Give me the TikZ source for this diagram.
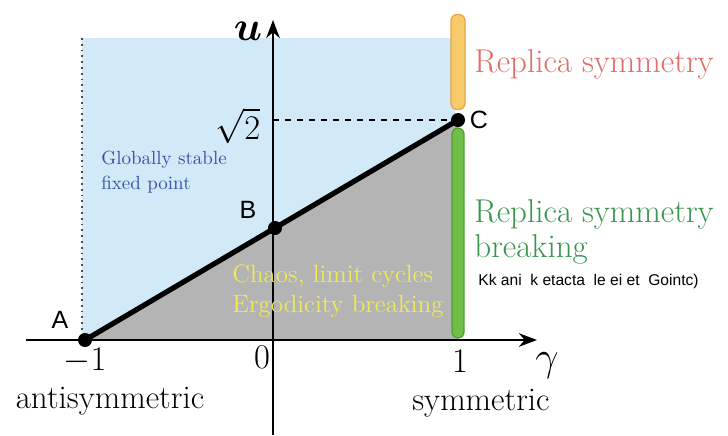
\documentclass[tikz,border=0pt]{standalone}
\usepackage{fontspec}
\usepackage{amsmath,bm}
\newfontfamily\labsf{Liberation Sans}
\usetikzlibrary{arrows.meta,positioning}
\definecolor{skyc}{RGB}{210,233,248}
\definecolor{grc}{RGB}{180,180,180}
\definecolor{orc}{RGB}{246,202,105}
\definecolor{ordc}{RGB}{232,165,70}
\definecolor{gnc}{RGB}{112,190,72}
\definecolor{gndc}{RGB}{80,160,50}
\definecolor{rtc}{RGB}{226,108,102}
\definecolor{gtc}{RGB}{58,150,78}
\definecolor{btc}{RGB}{52,82,168}
\definecolor{ytc}{RGB}{242,236,82}
\tikzset{axis/.style={line width=.9pt,-{Stealth[length=3.2mm,width=2.4mm]}},
 dot/.style={circle,fill=black,inner sep=0pt,minimum size=7pt},
 pill/.style={draw,rounded corners=3pt,inner sep=0pt,line width=.6pt},
 ptlab/.style={font=\labsf\fontsize{12.5}{14}\selectfont},
 tick/.style={font=\fontsize{18}{20}\selectfont},
 big/.style={font=\fontsize{16.5}{17.5}\selectfont,align=left},
 every node/.style={inner sep=1pt}}
\begin{document}
\begin{tikzpicture}[x=0.5pt,y=-0.5pt]
\useasboundingbox (0,0) rectangle (728,435);
% regions
\fill[skyc] (82,38) rectangle (455,340);
\coordinate (A) at (85,340);
\coordinate (B) at (275,228);
\coordinate (C) at (458,120);
\coordinate (D) at (458,340);
\fill[grc] (A) -- (C) -- (D) -- cycle;
\coordinate (lt) at (82,38);
\coordinate (lb) at (82,340);
\draw[dotted,line width=.9pt,black!70] (lt) -- (lb);
% axes
\coordinate (xs) at (26,340);
\coordinate (xe) at (537,340);
\coordinate (ys) at (273,435);
\coordinate (ye) at (273,20);
\draw[axis] (xs) -- (xe);
\draw[axis] (ys) -- (ye);
\coordinate (s2) at (273,120);
\draw[dashed,line width=.7pt] (s2) -- (C);
% pills
\node[pill,draw=ordc,fill=orc,minimum width=7pt,minimum height=47.5pt] (rs) at (458,62) {};
\node[pill,draw=gndc,fill=gnc,minimum width=6pt,minimum height=105pt] (rsb) at (458,233) {};
% boundary
\draw[line width=2.6pt,line cap=round] (A) -- (C);
\node[dot] (dA) at (A) {};
\node[dot] (dB) at (B) {};
\node[dot] (dC) at (C) {};
\node[ptlab] (lA) at (60,320) {A};
\node[ptlab] (lB) at (248,210) {B};
\node[ptlab] (lC) at (479,120) {C};
% ticks
\node[tick] (m1) at (85,361) {$-1$};
\node[tick] (z0) at (262,357) {$0$};
\node[tick] (p1) at (460,361) {$1$};
\node[font=\fontsize{22}{24}\selectfont] (ga) at (547,366) {$\gamma$};
\node[font=\fontsize{22}{24}\selectfont] (uu) at (248,31) {$\bm{u}$};
\node[tick] (sq) at (238,126) {$\sqrt{2}$};
\node[big] (anti) at (110,401) {antisymmetric};
\node[big] (sym) at (481,403) {symmetric};
% region texts
\node[big,text=rtc,anchor=west] (trs) at (472,64) {Replica symmetry};
\node[big,text=gtc,anchor=west] (trsb) at (472,232) {Replica symmetry\\breaking};
\node[anchor=west,font=\labsf\fontsize{7.8}{9}\selectfont] (gar) at (476,281) {Kk ani\ \ k etacta\ \ le ei et\ \ Gointc)};
\node[text=btc,align=left,anchor=west,font=\fontsize{9.5}{12.5}\selectfont] (gsf) at (99,172) {Globally stable\\fixed point};
\node[text=ytc,align=left,anchor=west,font=\fontsize{12.5}{15}\selectfont] (chaos) at (230,291) {Chaos, limit cycles\\Ergodicity breaking};
\end{tikzpicture}
\end{document}
